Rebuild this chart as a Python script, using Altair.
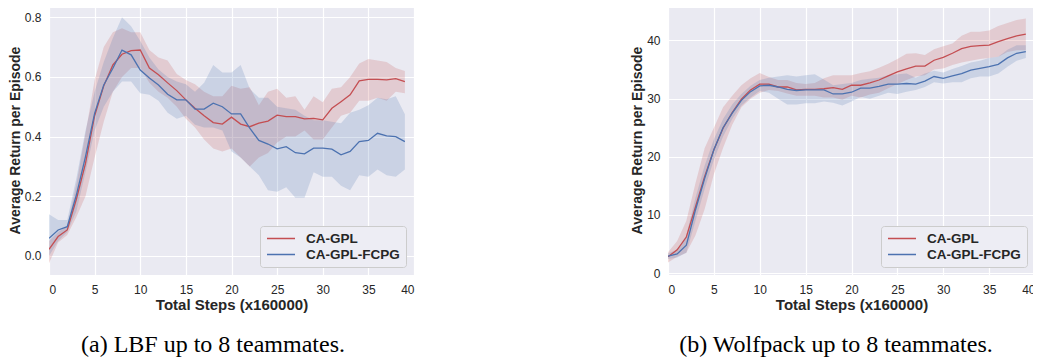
import altair as alt
import pandas as pd

steps = list(range(40))
series_names = ["CA-GPL", "CA-GPL-FCPG"]
series_colors = ["#C44E52", "#4C72B0"]

# (a) LBF
lbf_gpl_mean = [0.022, 0.065, 0.087, 0.19, 0.31, 0.47, 0.57, 0.64, 0.676, 0.688,
                0.69, 0.63, 0.607, 0.58, 0.554, 0.523, 0.495, 0.47, 0.447, 0.442,
                0.465, 0.442, 0.433, 0.445, 0.452, 0.472, 0.467, 0.467, 0.459, 0.461,
                0.456, 0.495, 0.517, 0.54, 0.587, 0.592, 0.592, 0.59, 0.594, 0.584]
lbf_gpl_lo = [-0.025, 0.045, 0.07, 0.13, 0.2, 0.33, 0.45, 0.55, 0.6, 0.63,
              0.63, 0.58, 0.55, 0.53, 0.5, 0.46, 0.43, 0.39, 0.36, 0.35,
              0.36, 0.33, 0.3, 0.33, 0.345, 0.38, 0.4, 0.4, 0.42, 0.39,
              0.39, 0.43, 0.47, 0.48, 0.52, 0.52, 0.53, 0.52, 0.55, 0.545]
lbf_gpl_hi = [0.05, 0.08, 0.1, 0.24, 0.41, 0.59, 0.7, 0.75, 0.763, 0.75,
              0.75, 0.69, 0.665, 0.655, 0.61, 0.59, 0.575, 0.55, 0.535, 0.535,
              0.57, 0.56, 0.565, 0.505, 0.55, 0.56, 0.53, 0.535, 0.49, 0.535,
              0.515, 0.56, 0.565, 0.6, 0.645, 0.66, 0.655, 0.65, 0.63, 0.62]
lbf_fcpg_mean = [0.059, 0.087, 0.098, 0.204, 0.333, 0.478, 0.573, 0.629, 0.69, 0.674,
                 0.623, 0.596, 0.573, 0.542, 0.523, 0.523, 0.492, 0.492, 0.512, 0.5,
                 0.476, 0.476, 0.428, 0.387, 0.375, 0.359, 0.366, 0.346, 0.342, 0.361,
                 0.361, 0.358, 0.339, 0.35, 0.383, 0.387, 0.411, 0.402, 0.4, 0.383]
lbf_fcpg_lo = [0.0, 0.05, 0.08, 0.15, 0.28, 0.42, 0.5, 0.55, 0.585, 0.585,
               0.545, 0.54, 0.52, 0.48, 0.46, 0.47, 0.44, 0.43, 0.43, 0.42,
               0.35, 0.33, 0.3, 0.27, 0.22, 0.215, 0.23, 0.195, 0.195, 0.28,
               0.265, 0.265, 0.235, 0.22, 0.27, 0.265, 0.29, 0.27, 0.265, 0.29]
lbf_fcpg_hi = [0.14, 0.12, 0.12, 0.26, 0.42, 0.55, 0.65, 0.73, 0.8, 0.77,
               0.72, 0.665, 0.625, 0.6, 0.585, 0.575, 0.55, 0.58, 0.64, 0.615,
               0.615, 0.64, 0.56, 0.53, 0.53, 0.5, 0.495, 0.49, 0.47, 0.455,
               0.455, 0.45, 0.445, 0.48, 0.49, 0.505, 0.53, 0.525, 0.535, 0.475]

# (b) Wolfpack
wp_gpl_mean = [2.8, 4.0, 6.2, 11.4, 16.6, 21.2, 24.9, 27.6, 29.9, 31.5,
               32.5, 32.5, 32.0, 32.0, 31.5, 31.6, 31.6, 31.7, 31.9, 31.6,
               32.3, 32.3, 32.7, 33.2, 33.9, 34.6, 35.1, 35.6, 35.6, 36.6,
               37.1, 37.8, 38.6, 39.0, 39.1, 39.2, 39.8, 40.3, 40.8, 41.1]
wp_gpl_lo = [1.8, 2.8, 3.5, 6.5, 11.0, 17.0, 21.5, 25.5, 28.5, 30.0,
             31.0, 31.5, 31.3, 30.9, 30.5, 30.5, 30.5, 30.2, 30.2, 29.8,
             30.5, 30.2, 30.7, 31.0, 31.8, 32.5, 33.2, 33.8, 34.0, 35.0,
             35.2, 35.8, 36.2, 36.5, 36.8, 37.0, 37.2, 38.0, 38.3, 38.3]
wp_gpl_hi = [3.6, 5.5, 9.0, 15.5, 21.5, 25.0, 28.5, 30.5, 32.3, 33.5,
             34.4, 33.7, 33.2, 33.2, 32.7, 32.5, 32.7, 33.5, 34.0, 34.0,
             34.0, 34.4, 34.7, 35.3, 36.0, 36.8, 37.7, 37.8, 37.5, 38.5,
             39.0, 39.5, 40.8, 41.5, 41.5, 41.7, 42.5, 43.0, 43.5, 43.8]
wp_fcpg_mean = [2.9, 3.3, 4.8, 10.9, 16.3, 21.2, 25.0, 27.5, 29.7, 31.2,
                32.2, 32.3, 32.0, 31.6, 31.4, 31.5, 31.5, 31.5, 30.8, 30.8,
                31.1, 31.8, 31.8, 32.1, 32.5, 32.5, 32.6, 32.5, 33.0, 33.8,
                33.5, 33.9, 34.3, 34.9, 35.2, 35.5, 35.9, 37.0, 37.8, 38.1]
wp_fcpg_lo = [2.4, 2.7, 3.5, 9.0, 14.5, 19.5, 23.5, 26.5, 28.8, 30.2,
              31.3, 31.0, 30.0, 29.0, 29.0, 29.2, 29.2, 29.5, 29.3, 28.8,
              29.5, 30.3, 30.0, 30.5, 31.0, 30.8, 31.2, 31.5, 32.0, 32.8,
              32.6, 32.8, 32.8, 33.5, 33.8, 33.8, 34.3, 35.5, 36.5, 37.0]
wp_fcpg_hi = [3.4, 4.0, 6.5, 13.0, 18.5, 23.0, 26.5, 29.0, 30.8, 32.2,
              33.2, 33.6, 33.8, 34.0, 33.8, 34.0, 34.2, 33.3, 32.3, 32.5,
              32.7, 33.2, 33.4, 33.6, 34.0, 34.2, 34.3, 33.6, 34.3, 34.8,
              34.5, 35.1, 35.6, 36.2, 36.5, 37.0, 37.2, 38.4, 39.2, 39.2]

x_ticks = [0, 5, 10, 15, 20, 25, 30, 35, 40]
lbf_y_ticks = [0.0, 0.2, 0.4, 0.6, 0.8]
wp_y_ticks = [0, 10, 20, 30, 40]

TEXT = "#262626"
FONT = "Liberation Sans"


def panel(a_mean, a_lo, a_hi, b_mean, b_lo, b_hi, ydom, yticks, yfmt, caption, cap_dx, w):
    rows = []
    for name, m, lo, hi in [(series_names[0], a_mean, a_lo, a_hi),
                            (series_names[1], b_mean, b_lo, b_hi)]:
        for s, mv, lv, hv in zip(steps, m, lo, hi):
            rows.append({"step": s, "series": name, "band": name + " band",
                         "mean": mv, "lo": lv, "hi": hv})
    df = pd.DataFrame(rows)

    xenc = alt.X("step:Q",
                 scale=alt.Scale(domain=[0, 40], nice=False, zero=False),
                 axis=alt.Axis(values=x_ticks, format="d", title="Total Steps (x160000)",
                               titleFontSize=15, titlePadding=2))
    yaxis = alt.Axis(values=yticks, format=yfmt, title="Average Return per Episode",
                     titleFontSize=14, titlePadding=2)
    yscale = alt.Scale(domain=ydom, nice=False, zero=False)

    band = alt.Chart(df).mark_area(opacity=0.2, clip=True).encode(
        x=xenc,
        y=alt.Y("lo:Q", scale=yscale, axis=yaxis),
        y2="hi:Q",
        fill=alt.Fill("band:N",
                      scale=alt.Scale(domain=[n + " band" for n in series_names],
                                      range=series_colors),
                      legend=None),
    )
    line = alt.Chart(df).mark_line(strokeWidth=1.3, clip=True).encode(
        x=xenc,
        y=alt.Y("mean:Q", scale=yscale, axis=yaxis),
        stroke=alt.Stroke("series:N",
                          scale=alt.Scale(domain=series_names, range=series_colors),
                          legend=alt.Legend(title=None, orient="bottom-right", offset=8,
                                            symbolType="stroke", symbolSize=784,
                                            symbolStrokeWidth=1.5, labelOffset=10,
                                            labelFontSize=13.5, labelFontWeight="bold",
                                            labelColor=TEXT, labelFont=FONT,
                                            padding=6, rowPadding=2, clipHeight=13,
                                            fillColor="#EDEDF4", strokeColor="#CCCCCC",
                                            cornerRadius=3)),
    )
    return alt.layer(band, line).properties(
        width=w, height=270,
        title=alt.TitleParams(caption, orient="bottom", anchor="middle",
                              font="Liberation Serif", fontSize=24, fontWeight="normal",
                              color="#000000", offset=21, dx=cap_dx),
    )


left = panel(lbf_gpl_mean, lbf_gpl_lo, lbf_gpl_hi, lbf_fcpg_mean, lbf_fcpg_lo, lbf_fcpg_hi,
             [-0.064, 0.841], lbf_y_ticks, ".1f", "(a) LBF up to 8 teammates.", -18.5, 365)
right = panel(wp_gpl_mean, wp_gpl_lo, wp_gpl_hi, wp_fcpg_mean, wp_fcpg_lo, wp_fcpg_hi,
              [-0.33, 46.1], wp_y_ticks, "d", "(b) Wolfpack up to 8 teammates.", -15.5, 367)

chart = alt.hconcat(left, right, spacing=216).resolve_scale(
    y="independent", stroke="independent", fill="independent"
).properties(
    padding={"left": 0, "top": -3, "right": -2, "bottom": 0}
).configure_view(
    fill="#EAEAF2", stroke=None
).configure_axis(
    labelFont=FONT, titleFont=FONT, labelFontSize=12, labelColor=TEXT,
    titleColor=TEXT, titleFontWeight="bold", tickSize=0, ticks=False, domain=False,
    grid=True, gridColor="#FFFFFF", gridWidth=1.2, labelPadding=8,
).configure_axisX(labelPadding=9)

chart.save("out.html", embed_options={"renderer": "svg", "actions": False})
